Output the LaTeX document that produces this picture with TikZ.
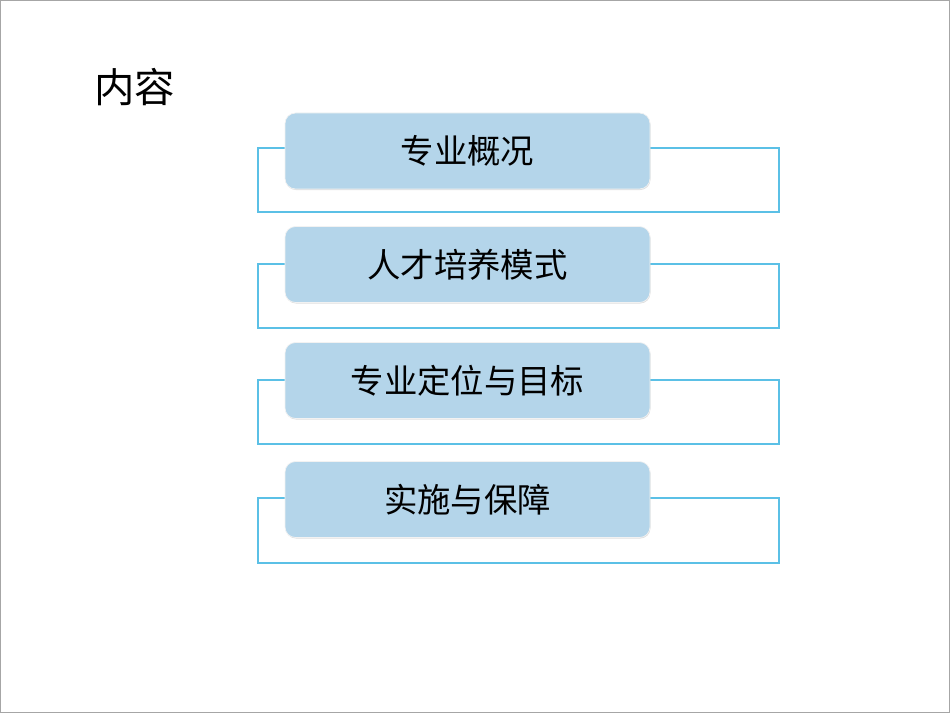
\documentclass[tikz,border=0pt]{standalone}
\usepackage{fontspec}
\newfontfamily\cjk{Noto Sans CJK SC}
\usetikzlibrary{positioning,shadows}
\definecolor{frameblue}{HTML}{5BC0E6}
\definecolor{boxblue}{HTML}{B4D5EA}
\tikzstyle{item} = [rectangle, rounded corners=6pt, fill=boxblue, draw=white!90!gray,
    minimum width=365*0.02cm, minimum height=76*0.02cm, font=\cjk\fontsize{19}{22}\selectfont,
    drop shadow={shadow xshift=0.3pt,shadow yshift=-0.6pt,opacity=0.25}]
\tikzstyle{frame} = [draw=frameblue, line width=1.2pt]
\begin{document}
\begin{tikzpicture}[x=0.02cm,y=-0.02cm]
\useasboundingbox (0,0) rectangle (950,713);
\draw[gray!70, line width=0.8pt] (0.5,0.5) rectangle (949.5,712.5);
\node (title) [anchor=west, font=\cjk\fontsize{23}{26}\selectfont] at (88,87) {内容};

% outlines behind the boxes
\draw[frame] (258,148) rectangle (779,212);
\draw[frame] (258,264) rectangle (779,328);
\draw[frame] (258,380) rectangle (779,444);
\draw[frame] (258,498) rectangle (779,563);

\node (overview) [item] at (467.5,151) {专业概况};
\node (mode) [item] at (467.5,264.5) {人才培养模式};
\node (target) [item] at (467.5,380.5) {专业定位与目标};
\node (support) [item] at (467.5,499.5) {实施与保障};
\end{tikzpicture}
\end{document}
